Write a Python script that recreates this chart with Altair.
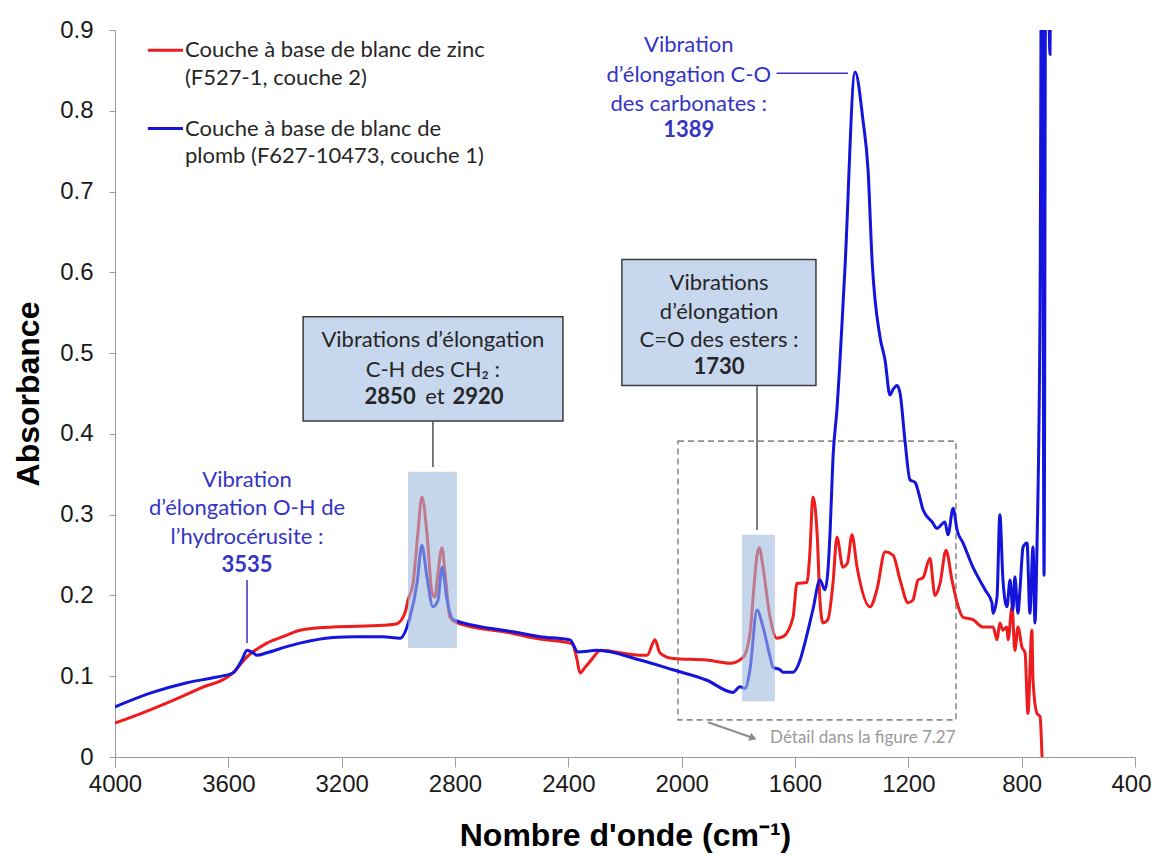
import altair as alt
import pandas as pd

# ---------------- data (wavenumber cm-1, absorbance) ----------------
red_wn = [4000, 3900, 3816, 3700, 3584, 3534, 3464, 3400, 3347, 3231, 3054, 3005, 2975, 2966, 2948, 2931, 2917,
          2899, 2881, 2871, 2860, 2846, 2835, 2818, 2793, 2595, 2500, 2394, 2384, 2369, 2359,
          2341, 2324, 2306, 2288, 2147, 2122, 2094, 2077, 2031, 1911, 1829, 1784, 1759, 1745,
          1734, 1726, 1713, 1688, 1664, 1642, 1607, 1593, 1558, 1547, 1537, 1522, 1512, 1501,
          1484, 1466, 1452, 1431, 1415, 1399, 1381, 1335, 1311, 1282, 1254, 1229, 1201, 1184,
          1176, 1166, 1148, 1124, 1106, 1088, 1067, 1046, 1028, 1007, 972, 937, 901, 887, 877,
          866, 852, 848, 834, 824, 813, 799, 788, 778, 764, 760, 746, 735, 728, 722]
red_abs = [0.042, 0.055, 0.067, 0.085, 0.104, 0.124, 0.141, 0.150, 0.157, 0.161, 0.163, 0.165, 0.180, 0.194, 0.215, 0.277, 0.322,
           0.277, 0.203, 0.198, 0.228, 0.259, 0.228, 0.173, 0.166, 0.153, 0.146, 0.141, 0.139, 0.120, 0.104,
           0.111, 0.118, 0.126, 0.132, 0.126, 0.126, 0.145, 0.129, 0.122, 0.120, 0.116, 0.123, 0.153, 0.210,
           0.250, 0.259, 0.235, 0.173, 0.147, 0.149, 0.173, 0.215, 0.216, 0.256, 0.322, 0.277, 0.194, 0.166,
           0.170, 0.215, 0.272, 0.235, 0.240, 0.275, 0.235, 0.186, 0.207, 0.254, 0.250, 0.219, 0.191, 0.194,
           0.205, 0.219, 0.222, 0.246, 0.200, 0.215, 0.256, 0.219, 0.191, 0.173, 0.170, 0.161, 0.161, 0.145, 0.166,
           0.157, 0.161, 0.145, 0.186, 0.132, 0.161, 0.136, 0.129, 0.054, 0.157, 0.095, 0.054, 0.050, 0.000, -0.050]

blue_wn = [4000, 3876, 3746, 3640, 3584, 3552, 3534, 3513, 3499, 3464, 3400, 3347, 3231, 3150, 3054, 2994,
           2959, 2934, 2917, 2899, 2878, 2860, 2846, 2828, 2807, 2595, 2500, 2394, 2366, 2299,
           2147, 2031, 1911, 1819, 1794, 1776, 1759, 1734, 1713, 1688, 1678, 1653, 1642, 1607,
           1582, 1572, 1537, 1512, 1494, 1484, 1476, 1466, 1452, 1424, 1388, 1360, 1342, 1328,
           1300, 1282, 1265, 1254, 1240, 1229, 1212, 1194, 1176, 1166, 1148, 1116, 1099, 1071,
           1060, 1042, 1028, 1007, 972, 929, 905, 901, 887, 877, 866, 852, 841, 831, 824, 813,
           806, 795, 781, 771, 760, 753, 746, 735, 728, 721, 714, 700, 693]
blue_abs = [0.062, 0.079, 0.092, 0.099, 0.104, 0.120, 0.132, 0.129, 0.126, 0.129, 0.136, 0.141, 0.148, 0.149, 0.149, 0.147,
            0.173, 0.215, 0.262, 0.223, 0.186, 0.194, 0.235, 0.194, 0.170, 0.155, 0.149, 0.145, 0.130, 0.132,
            0.120, 0.108, 0.095, 0.080, 0.087, 0.085, 0.108, 0.182, 0.161, 0.124, 0.111, 0.108, 0.105, 0.105,
            0.120, 0.132, 0.182, 0.219, 0.207, 0.230, 0.280, 0.370, 0.430, 0.603, 0.848, 0.788, 0.726, 0.615,
            0.520, 0.491, 0.448, 0.455, 0.460, 0.450, 0.392, 0.343, 0.340, 0.330, 0.306, 0.291, 0.283, 0.291,
            0.275, 0.308, 0.281, 0.265, 0.235, 0.207, 0.191, 0.178, 0.198, 0.300, 0.219, 0.186, 0.219, 0.182, 0.223, 0.178,
            0.207, 0.260, 0.265, 0.178, 0.260, 0.166, 0.260, 0.566, 1.200, 0.225, 1.200, 0.870, 1.200]

x_ticks = [4000, 3600, 3200, 2800, 2400, 2000, 1600, 1200, 800, 400]
y_ticks = [0, 0.1, 0.2, 0.3, 0.4, 0.5, 0.6, 0.7, 0.8, 0.9]

series_names = ["Couche à base de blanc de zinc (F527-1, couche 2)",
                "Couche à base de blanc de plomb (F627-10473, couche 1)"]

RED = "#ee1c1c"
BLUE = "#1414dc"
NOTE_BLUE = "#3434c4"
TXT = "#262626"
FONT = "Lato"
NOTE_SIZE = 22

red_df = pd.DataFrame({"wn": red_wn, "abs": red_abs, "s": series_names[0]})
blue_df = pd.DataFrame({"wn": blue_wn, "abs": blue_abs, "s": series_names[1]})

xs = alt.Scale(domain=[400, 4000], reverse=True, nice=False, zero=False)
ys = alt.Scale(domain=[0, 0.9], nice=False, zero=False)

AX_LABEL_FONT = "Liberation Sans"
x_axis = alt.Axis(values=x_ticks, format="d", title="Nombre d'onde (cm⁻¹)", grid=False,
                  tickSize=10, labelPadding=5, titlePadding=24, labelFontSize=24,
                  labelOffset={"condition": {"test": "datum.value == 400", "value": -4}, "value": 0},
                  titleFontSize=32, labelFont=AX_LABEL_FONT, titleFont="Liberation Sans",
                  titleFontWeight="bold", domainColor="#9a9a9a", tickColor="#9a9a9a",
                  labelColor="#1a1a1a", titleColor="#000000", labelFlush=False)
y_axis = alt.Axis(values=y_ticks, title="Absorbance", grid=False, tickSize=6, labelPadding=16,
                  labelExpr="datum.value == 0 ? '0' : format(datum.value, '.1f')",
                  titlePadding=14, labelFontSize=24, titleFontSize=32,
                  labelFont=AX_LABEL_FONT, titleFont="Liberation Sans",
                  titleFontWeight="bold", domainColor="#9a9a9a", tickColor="#9a9a9a",
                  labelColor="#1a1a1a", titleColor="#000000", labelFlush=False)


def X(field):
    return alt.X(field, type="quantitative", scale=xs, axis=x_axis)


def Y(field):
    return alt.Y(field, type="quantitative", scale=ys, axis=y_axis)


# ---------------- spectra ----------------
red_line = alt.Chart(red_df).mark_line(color=RED, strokeWidth=3, clip=True, interpolate="monotone").encode(
    x=X("wn"), y=Y("abs"))
blue_line = alt.Chart(blue_df).mark_line(color=BLUE, strokeWidth=3, clip=True, interpolate="monotone").encode(
    x=X("wn"), y=Y("abs"))

# ---------------- annotation shapes ----------------
dash_df = pd.DataFrame({"x": [2013], "x2": [1032], "y": [0.046], "y2": [0.391]})
dash_box = alt.Chart(dash_df).mark_rect(fill="#ffffff", fillOpacity=0, stroke="#8c8c8c",
                                         strokeDash=[6, 4], strokeWidth=1.6).encode(
    x=X("x"), x2="x2", y=Y("y"), y2="y2")

hl_df = pd.DataFrame({"x": [2966, 1787], "x2": [2793, 1671], "y": [0.135, 0.069], "y2": [0.353, 0.275]})
highlights = alt.Chart(hl_df).mark_rect(fill="#9fbbdd", opacity=0.6).encode(
    x=X("x"), x2="x2", y=Y("y"), y2="y2")

box_df = pd.DataFrame({"x": [3336, 2211], "x2": [2419, 1526], "y": [0.416, 0.460], "y2": [0.545, 0.616]})
boxes = alt.Chart(box_df).mark_rect(fill="#c6d7ee", stroke="#3c3c3c", strokeWidth=1.5).encode(
    x=X("x"), x2="x2", y=Y("y"), y2="y2")

grey_leader_df = pd.DataFrame({"x": [2878, 1734], "x2": [2878, 1734], "y": [0.416, 0.460], "y2": [0.359, 0.281]})
grey_leaders = alt.Chart(grey_leader_df).mark_rule(color="#505050", strokeWidth=1.5).encode(
    x=X("x"), x2="x2", y=Y("y"), y2="y2")

blue_leader_df = pd.DataFrame({"x": [1665, 3534], "x2": [1413, 3534], "y": [0.8465, 0.219], "y2": [0.8465, 0.141]})
blue_leaders = alt.Chart(blue_leader_df).mark_rule(color=NOTE_BLUE, strokeWidth=1.5).encode(
    x=X("x"), x2="x2", y=Y("y"), y2="y2")

arrow_df = pd.DataFrame({"x": [1907], "x2": [1755], "y": [0.043], "y2": [0.0245]})
arrow_line = alt.Chart(arrow_df).mark_rule(color="#8c8c8c", strokeWidth=2).encode(
    x=X("x"), x2="x2", y=Y("y"), y2="y2")
arrow_head_df = pd.DataFrame({"x": [1748], "y": [0.0235]})
arrow_head = alt.Chart(arrow_head_df).mark_point(shape="triangle-right", filled=True, angle=20,
                                                 size=70, color="#8c8c8c", opacity=1).encode(
    x=X("x"), y=Y("y"))

# ---------------- legend ----------------
leg_line_df = pd.DataFrame({"x": [3884, 3884], "x2": [3760, 3760], "y": [0.875, 0.778], "y2": [0.875, 0.778],
                            "s": series_names})
leg_lines = alt.Chart(leg_line_df).mark_rule(strokeWidth=3).encode(
    x=X("x"), x2="x2", y=Y("y"), y2="y2",
    color=alt.Color("s:N", scale=alt.Scale(domain=series_names, range=[RED, BLUE]), legend=None))
leg_text_df = pd.DataFrame({"x": [3753] * 4, "y": [0.875, 0.840, 0.778, 0.744],
                            "t": ["Couche à base de blanc de zinc", "(F527-1, couche 2)",
                                  "Couche à base de blanc de", "plomb (F627-10473, couche 1)"]})
leg_text = alt.Chart(leg_text_df).mark_text(align="left", baseline="middle", font=FONT, fontSize=NOTE_SIZE,
                                            color=TXT).encode(x=X("x"), y=Y("y"), text="t:N")


# ---------------- annotation texts ----------------
def text_layer(df, color, bold=False, size=NOTE_SIZE, align="center"):
    return alt.Chart(df).mark_text(align=align, baseline="middle", font=FONT, fontSize=size,
                                   color=color, fontWeight="bold" if bold else "normal").encode(
        x=X("x"), y=Y("y"), text="t:N")


blue_norm_df = pd.DataFrame({
    "x": [1975, 1975, 1975, 3534, 3534, 3534],
    "y": [0.881, 0.844, 0.809, 0.343, 0.308, 0.272],
    "t": ["Vibration", "d’élongation C-O", "des carbonates :",
          "Vibration", "d’élongation O-H de", "l’hydrocérusite :"]})
blue_bold_df = pd.DataFrame({"x": [1975, 3534], "y": [0.776, 0.238], "t": ["1389", "3535"]})

box_norm_df = pd.DataFrame({
    "x": [2878, 2878, 2871, 1868, 1868, 1868],
    "y": [0.516, 0.479, 0.446, 0.587, 0.551, 0.516],
    "t": ["Vibrations d’élongation", "C-H des CH₂ :", "et", "Vibrations", "d’élongation",
          "C=O des esters :"]})
box_bold_df = pd.DataFrame({"x": [3029, 2719, 1868], "y": [0.446, 0.446, 0.483],
                            "t": ["2850", "2920", "1730"]})
detail_df = pd.DataFrame({"x": [1688], "y": [0.0235], "t": ["Détail dans la figure 7.27"]})

texts = [
    text_layer(blue_norm_df, NOTE_BLUE),
    text_layer(blue_bold_df, NOTE_BLUE, bold=True),
    text_layer(box_norm_df, TXT),
    text_layer(box_bold_df, TXT, bold=True),
    text_layer(detail_df, "#9a9a9a", size=17, align="left"),
]

chart = alt.layer(
    dash_box, red_line, blue_line, highlights, boxes, grey_leaders, blue_leaders,
    arrow_line, arrow_head, leg_lines, leg_text, *texts
).properties(
    width=1020, height=727,
    padding={"left": 107, "top": 22, "right": 17, "bottom": 105},
    autosize=alt.AutoSizeParams(type="none"),
    background="#ffffff",
).configure_view(stroke="transparent")

chart.save("out.html", embed_options={"renderer": "svg", "actions": False})
